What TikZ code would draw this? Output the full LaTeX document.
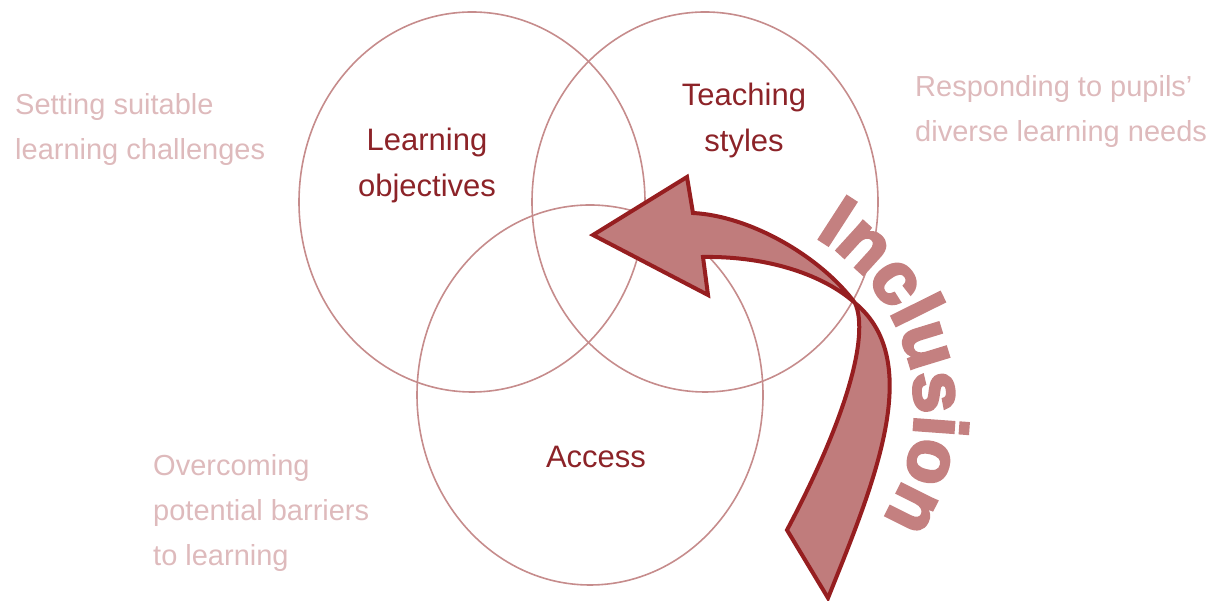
\documentclass[tikz,border=0pt]{standalone}
\usepackage{fontspec}
\setmainfont{Liberation Sans}
\newfontfamily\inclfam[BoldFeatures={FakeBold=4}]{Liberation Sans}
\usetikzlibrary{decorations.text}
\definecolor{circ}{RGB}{198,140,140}
\definecolor{darktext}{RGB}{140,35,40}
\definecolor{lighttext}{RGB}{222,186,188}
\definecolor{incl}{RGB}{196,128,128}
\definecolor{arrowfill}{RGB}{192,124,124}
\definecolor{arrowline}{RGB}{150,30,32}
\newcommand{\inclfont}{\inclfam\fontsize{74}{74}\selectfont\bfseries\color{incl}}
\begin{document}
\begin{tikzpicture}[x=1pt,y=1pt,
  venn/.style={draw=circ, line width=1.6pt},
  biglabel/.style={font=\fontsize{31}{46.5}\selectfont, text=darktext, align=center, inner sep=0pt, anchor=north},
  note/.style={font=\fontsize{29}{45}\selectfont, text=lighttext, align=left, inner sep=0pt, anchor=north west},
  bigarrow/.style={fill=arrowfill, draw=arrowline, line width=4pt, line join=miter}
]
\useasboundingbox (0,0) rectangle (1224,601);
% circles
\draw[venn] (472,399) ellipse [x radius=173, y radius=190];
\draw[venn] (705,399) ellipse [x radius=173, y radius=190];
\draw[venn] (590,206) ellipse [x radius=173, y radius=190];
% labels
\node[biglabel] (lo) at (427,473.5) {Learning\\objectives};
\node[biglabel] (ts) at (744,518.6) {Teaching\\styles};
\node[biglabel] (ac) at (596,155.2) {Access};
\node[note] (sl) at (15,508) {Setting suitable\\learning challenges};
\node[note] (rp) at (915,526) {Responding to pupils'\\diverse learning needs};
\node[note] (ob) at (153,147) {Overcoming\\potential barriers\\to learning};
% arrow
\coordinate (pinch) at (855,298);
\filldraw[bigarrow] (787,71) -- (828,3)
  .. controls (875,120) and (925,240) .. (pinch)
  .. controls (820,345) and (750,385) .. (693,388)
  -- (687,424) -- (593,366) -- (708,306) -- (703,344)
  .. controls (770,345) and (825,325) .. (pinch)
  .. controls (870,265) and (845,180) .. (787,71)
  -- cycle;
% Inclusion
\path[decorate, decoration={text along path, text align=left,
  text={|\inclfont|Inclusion}}]
  (715,191) ++(60:200) arc[start angle=60, end angle=-60, radius=200];
\end{tikzpicture}
\end{document}
